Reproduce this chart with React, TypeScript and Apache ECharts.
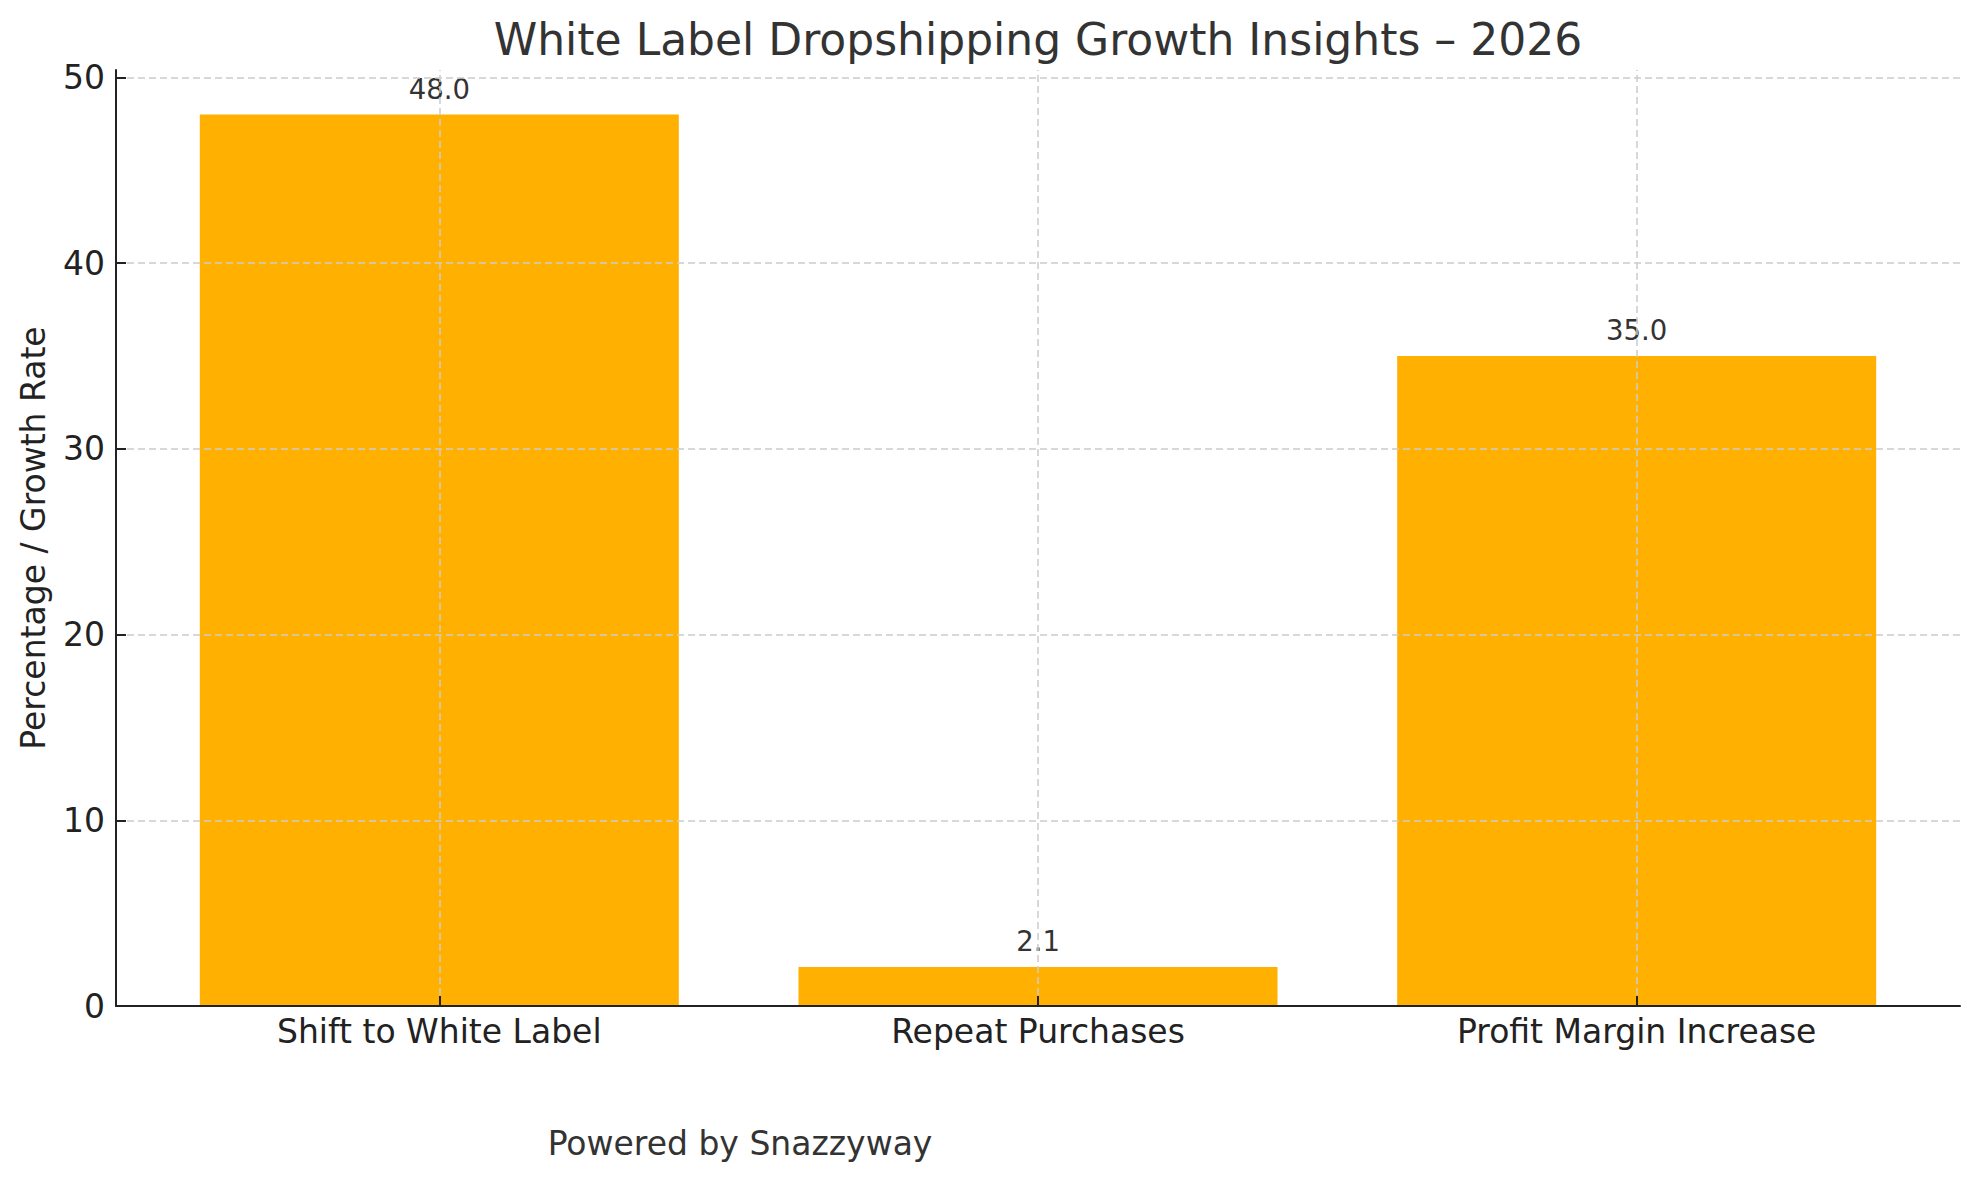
import { useEffect, useRef } from "react";
import * as echarts from "echarts";

const categories = ["Shift to White Label", "Repeat Purchases", "Profit Margin Increase"];
const values = [48.0, 2.1, 35.0];
const yTicks = [0, 10, 20, 30, 40, 50];
const xTicks = [0, 1, 2];

const FONT = "'DejaVu Sans', sans-serif";

export default function App() {
  const chartRef = useRef<HTMLDivElement>(null);

  useEffect(() => {
    if (!chartRef.current) return;
    const chart = echarts.init(chartRef.current, null, { renderer: "svg" });

    const option = {
      animation: false,
      textStyle: { fontFamily: FONT },
      title: {
        text: "White Label Dropshipping Growth Insights – 2026",
        left: 1038,
        textAlign: "center",
        top: 17,
        padding: 0,
        textStyle: { fontFamily: FONT, fontSize: 44, fontWeight: "normal", color: "#333333" },
      },
      grid: { left: 116, right: 19, top: 70, bottom: 175, containLabel: false },
      xAxis: {
        type: "value",
        min: -0.54,
        max: 2.54,
        z: 6,
        axisLine: { show: true, onZero: false, lineStyle: { color: "#222222", width: 2 } },
        axisTick: { show: true, inside: true, length: 10, customValues: xTicks, lineStyle: { color: "#222222", width: 2 } },
        axisLabel: {
          customValues: xTicks,
          margin: 9,
          fontSize: 33,
          fontFamily: FONT,
          color: "#222222",
          formatter: (v: number) => categories[Math.round(v)] ?? "",
        },
        splitLine: { show: false },
      },
      yAxis: {
        type: "value",
        min: 0,
        max: 50.4,
        z: 6,
        name: "Percentage / Growth Rate",
        nameLocation: "middle",
        nameGap: 66,
        nameTextStyle: { fontSize: 33, fontFamily: FONT, color: "#222222" },
        axisLine: { show: true, onZero: false, lineStyle: { color: "#222222", width: 2 } },
        axisTick: { show: true, inside: true, length: 10, customValues: yTicks, lineStyle: { color: "#222222", width: 2 } },
        axisLabel: { customValues: yTicks, margin: 11, fontSize: 33, fontFamily: FONT, color: "#222222" },
        splitLine: { show: false },
      },
      series: [
        {
          type: "bar",
          data: values.map((v, i) => [xTicks[i], v]),
          barWidth: 479,
          itemStyle: { color: "#FFB000" },
          emphasis: { disabled: true },
          label: {
            show: true,
            position: "top",
            distance: 12,
            fontSize: 27.5,
            fontFamily: FONT,
            color: "#333333",
            formatter: (p: { value: number[] }) => p.value[1].toFixed(1),
          },
          markLine: {
            silent: true,
            symbol: "none",
            label: { show: false },
            lineStyle: { color: "#cccccc", type: [7, 4], width: 1.5 },
            data: [
              ...xTicks.map((v) => ({ xAxis: v })),
              ...yTicks.filter((v) => v > 0).map((v) => ({ yAxis: v })),
            ],
          },
        },
      ],
      graphic: [
        {
          type: "text",
          x: 740,
          y: 1143,
          style: {
            text: "Powered by Snazzyway",
            font: `33px ${FONT}`,
            fill: "#333333",
            textAlign: "center",
            textVerticalAlign: "middle",
          },
        },
      ],
    };

    chart.setOption(option);
    return () => {
      chart.dispose();
    };
  }, []);

  return (
    <div
      ref={chartRef}
      style={{ position: "absolute", left: 0, top: 0, width: "1979px", height: "1181px" }}
    ></div>
  );
}
